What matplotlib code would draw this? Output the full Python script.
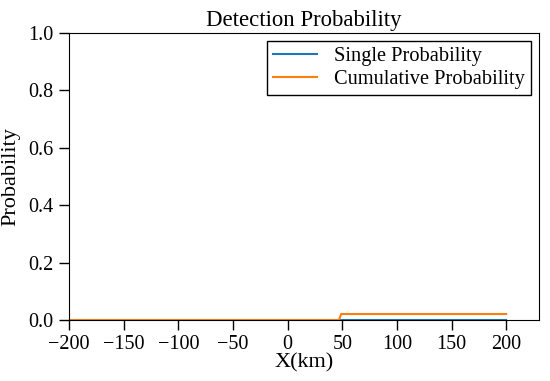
import matplotlib
matplotlib.use("Agg")
import matplotlib.pyplot as plt
import numpy as np

plt.rcParams['font.family'] = ['Liberation Serif', 'DejaVu Serif']
plt.rcParams['mathtext.fontset'] = 'stix'

# Data
x_km = [-200, 47, 49, 200]
single_prob = [0.0, 0.0, 0.0, 0.0]
cumulative_prob = [0.0, 0.0, 0.021, 0.021]

fig = plt.figure(figsize=(5.5, 3.81), dpi=100)
ax = fig.add_axes([0.1255, 0.16, 0.8545, 0.754])
ax.plot(x_km, single_prob, color='#1f77b4', label='Single Probability')
ax.plot(x_km, cumulative_prob, color='#ff7f0e', label='Cumulative Probability')
ax.set_xlim(-200, 230)
ax.set_ylim(0, 1)
ax.set_xticks([-200, -150, -100, -50, 0, 50, 100, 150, 200])
ax.set_yticks([0.0, 0.2, 0.4, 0.6, 0.8, 1.0])
ax.tick_params(labelsize=14.5, length=7, width=1.0)
ax.tick_params(axis='y', pad=4.5)
ax.set_title('Detection Probability', fontsize=16.4, pad=5)
ax.set_xlabel('X(km)', fontsize=16, labelpad=0)
ax.set_ylabel('Probability', fontsize=16, labelpad=5)
leg = ax.legend(fontsize=14.7, fancybox=False, edgecolor='black', framealpha=1,
                loc='upper right', labelspacing=0.2, borderpad=0.3,
                borderaxespad=0.38, handlelength=2.15, handletextpad=0.85)
leg.get_frame().set_linewidth(1.0)
fig.savefig('out.png', dpi=100)
